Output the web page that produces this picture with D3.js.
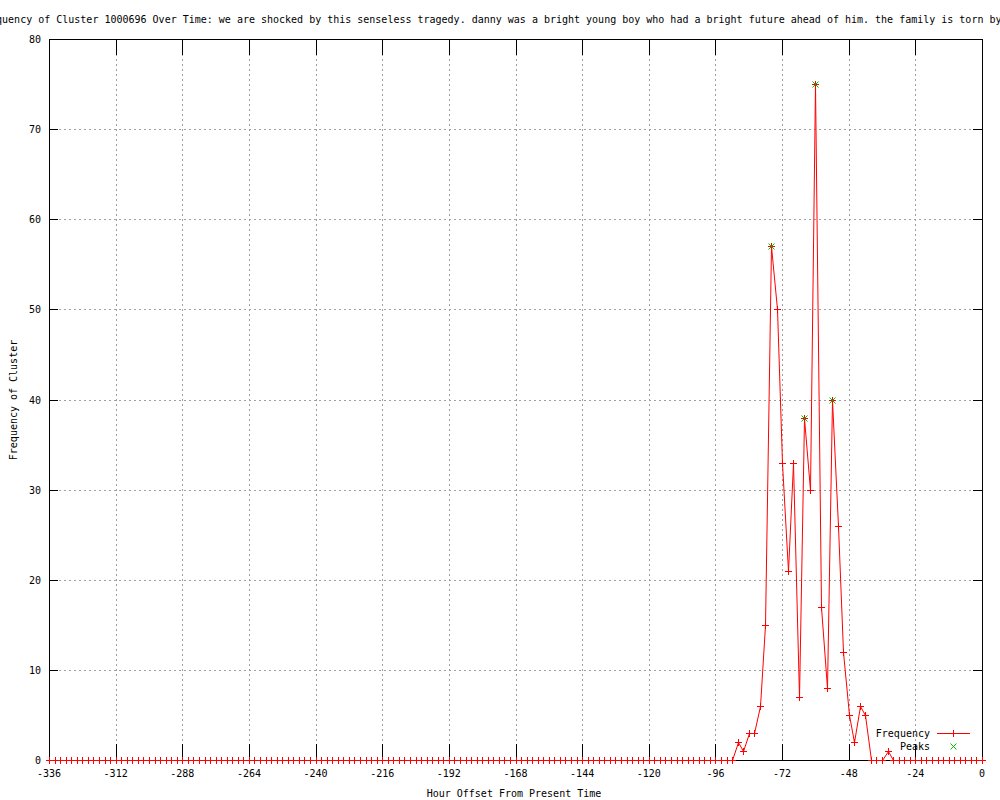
<!DOCTYPE html>
<html>
<head>
<meta charset="utf-8">
<script src="https://cdn.jsdelivr.net/npm/d3@7"></script>
<style>
  html, body { margin: 0; padding: 0; background: #fff; }
  svg { display: block; }
  text { font-family: "DejaVu Sans Mono", "Liberation Mono", monospace; font-size: 10px; fill: #000; }
  line, rect { shape-rendering: crispEdges; }
</style>
</head>
<body>
<svg id="chart" width="1000" height="800"></svg>
<script>
// ---- data ----
const titleText = "Frequency of Cluster 1000696 Over Time: we are shocked by this senseless tragedy. danny was a bright young boy who had a bright future ahead of him. the family is torn by";
const xLabel = "Hour Offset From Present Time";
const yLabel = "Frequency of Cluster";
const xTicks = [-336, -312, -288, -264, -240, -216, -192, -168, -144, -120, -96, -72, -48, -24, 0];
const yTicks = [0, 10, 20, 30, 40, 50, 60, 70, 80];
// non-zero hours (others from -336 to 0 every 2 hours are zero)
const activeHours = [-88, -86, -84, -82, -80, -78, -76, -74, -72, -70, -68, -66, -64, -62, -60, -58, -56, -54, -52, -50, -48, -46, -44, -42, -34];
const activeValues = [2, 1, 3, 3, 6, 15, 57, 50, 33, 21, 33, 7, 38, 30, 75, 17, 8, 40, 26, 12, 5, 2, 6, 5, 1];
const hours = d3.range(-336, 1, 2);
const frequency = hours.map(h => { const i = activeHours.indexOf(h); return i >= 0 ? activeValues[i] : 0; });
const peakHours = [-76, -64, -60, -54];
const peakValues = [57, 38, 75, 40];

// ---- layout ----
const svg = d3.select("#chart");
const L = 49, R = 982, T = 39, B = 760;
const x = d3.scaleLinear().domain([-336, 0]).range([L, R]);
const y = d3.scaleLinear().domain([0, 80]).range([B, T]);
const red = "#ff0000", green = "#00c000";

// grid
const grid = svg.append("g").attr("stroke", "#a0a0a0").attr("stroke-dasharray", "2,3").attr("stroke-width", 1);
xTicks.slice(1, -1).forEach(t => grid.append("line").attr("x1", Math.round(x(t)) + 0.5).attr("x2", Math.round(x(t)) + 0.5).attr("y1", T).attr("y2", B));
yTicks.slice(1, -1).forEach(t => grid.append("line").attr("y1", Math.round(y(t)) + 0.5).attr("y2", Math.round(y(t)) + 0.5).attr("x1", L).attr("x2", R));

// data line
const pts = hours.map((h, i) => [h, frequency[i]]);
svg.append("path").datum(pts)
  .attr("fill", "none").attr("stroke", red).attr("stroke-width", 1)
  .attr("d", d3.line().x(d => Math.round(x(d[0])) + 0.5).y(d => Math.round(y(d[1])) + 0.5));

function plus(g, cx, cy, col) {
  g.append("line").attr("x1", cx - 3.5).attr("x2", cx + 3.5).attr("y1", cy).attr("y2", cy).attr("stroke", col);
  g.append("line").attr("x1", cx).attr("x2", cx).attr("y1", cy - 3.5).attr("y2", cy + 3.5).attr("stroke", col);
}
function cross(g, cx, cy, col) {
  g.append("line").attr("x1", cx - 3).attr("x2", cx + 3).attr("y1", cy - 3).attr("y2", cy + 3).attr("stroke", col).style("shape-rendering", "auto");
  g.append("line").attr("x1", cx - 3).attr("x2", cx + 3).attr("y1", cy + 3).attr("y2", cy - 3).attr("stroke", col).style("shape-rendering", "auto");
}

// border and tick marks (drawn over line)
const axes = svg.append("g").attr("stroke", "#000").attr("stroke-width", 1);
axes.append("rect").attr("x", L + 0.5).attr("y", T + 0.5).attr("width", R - L).attr("height", B - T).attr("fill", "none");
xTicks.forEach(t => {
  const px = Math.round(x(t)) + 0.5;
  axes.append("line").attr("x1", px).attr("x2", px).attr("y1", B).attr("y2", B - 16);
  axes.append("line").attr("x1", px).attr("x2", px).attr("y1", T).attr("y2", T + 16);
});
yTicks.forEach(t => {
  const py = Math.round(y(t)) + 0.5;
  axes.append("line").attr("x1", L).attr("x2", L + 9).attr("y1", py).attr("y2", py);
  axes.append("line").attr("x1", R).attr("x2", R - 9).attr("y1", py).attr("y2", py);
});

// point markers
const marks = svg.append("g").attr("stroke-width", 1);
pts.forEach(d => plus(marks, Math.round(x(d[0])) + 0.5, Math.round(y(d[1])) + 0.5, red));
peakHours.forEach((h, i) => cross(marks, Math.round(x(h)) + 0.5, Math.round(y(peakValues[i])) + 0.5, green));

// tick labels
xTicks.forEach(t => svg.append("text").attr("x", x(t)).attr("y", 777).attr("text-anchor", "middle").text(t));
yTicks.forEach(t => svg.append("text").attr("x", 41).attr("y", y(t) + 4).attr("text-anchor", "end").text(t));

// titles
svg.append("text").attr("x", -22).attr("y", 23).attr("text-anchor", "start").text(titleText);
svg.append("text").attr("x", 514).attr("y", 797).attr("text-anchor", "middle").text(xLabel);
svg.append("text").attr("transform", "translate(17,400) rotate(-90)").attr("text-anchor", "middle").text(yLabel);

// legend
const leg = svg.append("g").attr("stroke-width", 1);
leg.append("text").attr("x", 930).attr("y", 737).attr("text-anchor", "end").text("Frequency");
leg.append("line").attr("x1", 937).attr("x2", 970).attr("y1", 733.5).attr("y2", 733.5).attr("stroke", red);
plus(leg, 953.5, 733.5, red);
leg.append("text").attr("x", 930).attr("y", 750).attr("text-anchor", "end").text("Peaks");
cross(leg, 953.5, 746.5, green);
</script>
</body>
</html>
